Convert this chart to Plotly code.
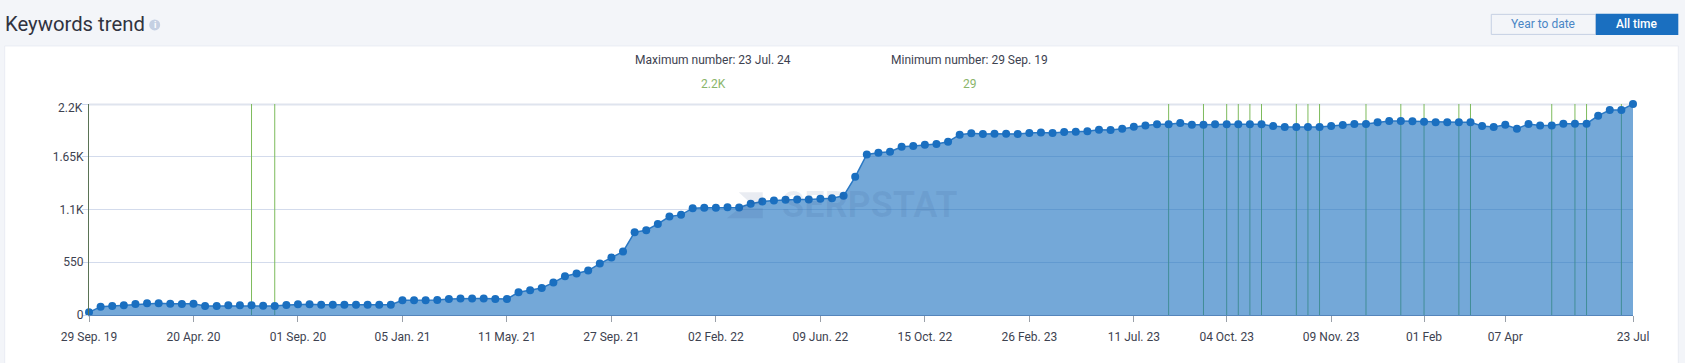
import plotly.graph_objects as go

keywords = [29,87,94,101,115,122,122,118,115,118,94,94,101,101,101,97,94,104,111,111,108,108,108,108,108,108,108,
            153,153,153,157,167,171,171,171,167,167,237,258,282,338,404,432,463,536,599,661,863,884,950,1027,1044,
            1114,1117,1117,1124,1121,1159,1183,1194,1201,1204,1204,1211,1218,1243,1441,1674,1692,1702,1754,1761,1775,
            1782,1807,1880,1894,1887,1890,1890,1887,1897,1904,1897,1908,1911,1915,1932,1928,1942,1963,1977,1988,1988,
            2002,1984,1984,1988,1988,1988,1988,1988,1970,1960,1960,1960,1960,1970,1981,1991,1991,2009,2022,2022,2019,
            2016,2009,2009,2009,2009,1970,1960,1984,1942,1991,1977,1977,1995,1995,1995,2078,2137,2137,2200]
x_index = list(range(len(keywords)))
x_tick_index = [0,9,18,27,36,45,54,63,72,81,90,98,107,115,122,133]
x_tick_labels = ["29 Sep. 19","20 Apr. 20","01 Sep. 20","05 Jan. 21","11 May. 21","27 Sep. 21","02 Feb. 22",
                 "09 Jun. 22","15 Oct. 22","26 Feb. 23","11 Jul. 23","04 Oct. 23","09 Nov. 23","01 Feb","07 Apr","23 Jul"]
y_ticks = [0,550,1100,1650,2200]
y_tick_labels = ["0","550","1.1K","1.65K",""]
y_top_label = "2.2K"
update_index = [14,16,93,96,98,99,100,101,104,105,106,110,113,115,118,119,126,128,129,132]

W, H = 1685, 363
L, R, T, B = 89.3, 51.8, 104, 48.3
PW, PH = W-L-R, H-T-B
def X(p): return (p-L)/PW
def Y(p): return 1-(p-T)/PH

FONT = "Roboto"
TXT = "#3d4250"
BLUE = "#1a6fc0"
GREEN = "#7dbb5c"
GRID = "#d3dbec"

fig = go.Figure()
ux, uy = [], []
for i in update_index:
    ux += [i, i, None]
    uy += [0, y_ticks[-1], None]
fig.add_trace(go.Scatter(x=ux, y=uy, mode="lines", line=dict(color=GREEN, width=1), hoverinfo="skip", showlegend=False))
fig.add_trace(go.Scatter(x=x_index, y=keywords, mode="lines+markers", fill="tozeroy",
                         fillcolor="rgba(24,110,190,0.6)", line=dict(color="#2a78c4", width=1.5),
                         marker=dict(color=BLUE, size=8), cliponaxis=False, showlegend=False))

shapes = [
    dict(type="rect", xref="paper", yref="paper", x0=X(5), x1=X(1678.5), y0=Y(46), y1=Y(370),
         fillcolor="white", line=dict(color="#e9ecf3", width=1), layer="below"),
    dict(type="rect", xref="paper", yref="paper", x0=X(1491.5), x1=X(1596), y0=Y(14.5), y1=Y(34.5),
         fillcolor="rgba(0,0,0,0)", line=dict(color="#c5d0e3", width=1), layer="below"),
    dict(type="rect", xref="paper", yref="paper", x0=X(1596), x1=X(1678.5), y0=Y(14), y1=Y(35),
         fillcolor=BLUE, line=dict(width=0), layer="below"),
    dict(type="circle", xref="paper", yref="paper", x0=X(149.5), x1=X(160.5), y0=Y(19.5), y1=Y(30.5),
         fillcolor="#c5d0e3", line=dict(width=0), layer="below"),
    dict(type="line", xref="paper", yref="paper", x0=0, x1=1, y0=Y(104.5), y1=Y(104.5),
         line=dict(color="#dfe4ee", width=2), layer="below"),
]
def path(pts):
    return "M" + " L".join(f"{X(a):.5f},{Y(b):.5f}" for a, b in pts) + " Z"
for poly in ([(739,192),(763,192),(763,204),(752,204)], [(727,218),(745,204),(752,208),(763,208),(763,218)]):
    shapes.append(dict(type="path", xref="paper", yref="paper", path=path(poly),
                       fillcolor="rgba(40,70,125,0.10)", line=dict(width=0), layer="above"))

def ann(text, px, py, size=12, color=TXT, anchor="center", weight=None, **kw):
    f = dict(family=FONT, size=size, color=color)
    if weight:
        f["weight"] = weight
    return dict(text=text, x=X(px), y=Y(py), xref="paper", yref="paper", showarrow=False, xanchor=anchor,
                yanchor="middle", font=f, **kw)

annotations = [
    ann("Keywords trend", 3.5, 24, size=20.3, color="#30333f", anchor="left"),
    ann("<b>i</b>", 155, 25, size=9, color="white"),
    ann("Year to date", 1543.5, 24.5, size=12, color="#4a86c5"),
    ann("All time", 1637, 24.5, size=12, color="white", weight=500),
    ann("Maximum number: 23 Jul. 24", 713.2, 59.7),
    ann("2.2K", 714.2, 83.7, color="#8ab56a"),
    ann("Minimum number: 29 Sep. 19", 969.3, 59.7),
    ann("29", 969.8, 83.7, color="#8ab56a"),
    ann(y_top_label, 85.5, 108, anchor="right"),
    ann("<b>SERPSTAT</b>", 870, 205, size=36, color="rgba(40,70,125,0.09)"),
]

fig.update_layout(
    width=W, height=H, autosize=False,
    margin=dict(l=L, r=R, t=T, b=B, pad=0),
    paper_bgcolor="#f3f5f9", plot_bgcolor="rgba(0,0,0,0)",
    showlegend=False, shapes=shapes, annotations=annotations,
    font=dict(family=FONT, size=12, color=TXT),
    xaxis=dict(range=[0, len(keywords)-1], tickmode="array", tickvals=x_tick_index, ticktext=x_tick_labels,
               ticks="outside", ticklen=6, tickcolor="#9aa0a8", tickwidth=1, showgrid=False, zeroline=False,
               showline=True, linecolor="#5585bb", linewidth=1, ticklabelstandoff=5,
               tickfont=dict(family=FONT, size=12, color=TXT)),
    yaxis=dict(range=[0, y_ticks[-1]], tickmode="array", tickvals=y_ticks, ticktext=y_tick_labels,
               ticks="outside", ticklen=6, tickcolor="#ccd6eb", tickwidth=1, showgrid=True, gridcolor=GRID,
               gridwidth=1, zeroline=False, showline=True, linecolor="#5a7355", linewidth=1, ticklabelstandoff=-4,
               tickfont=dict(family=FONT, size=12, color=TXT)),
)
fig.write_html("out.html", post_script="document.body.style.margin='0';document.body.style.overflow='hidden';",
               config=dict(displayModeBar=False))
